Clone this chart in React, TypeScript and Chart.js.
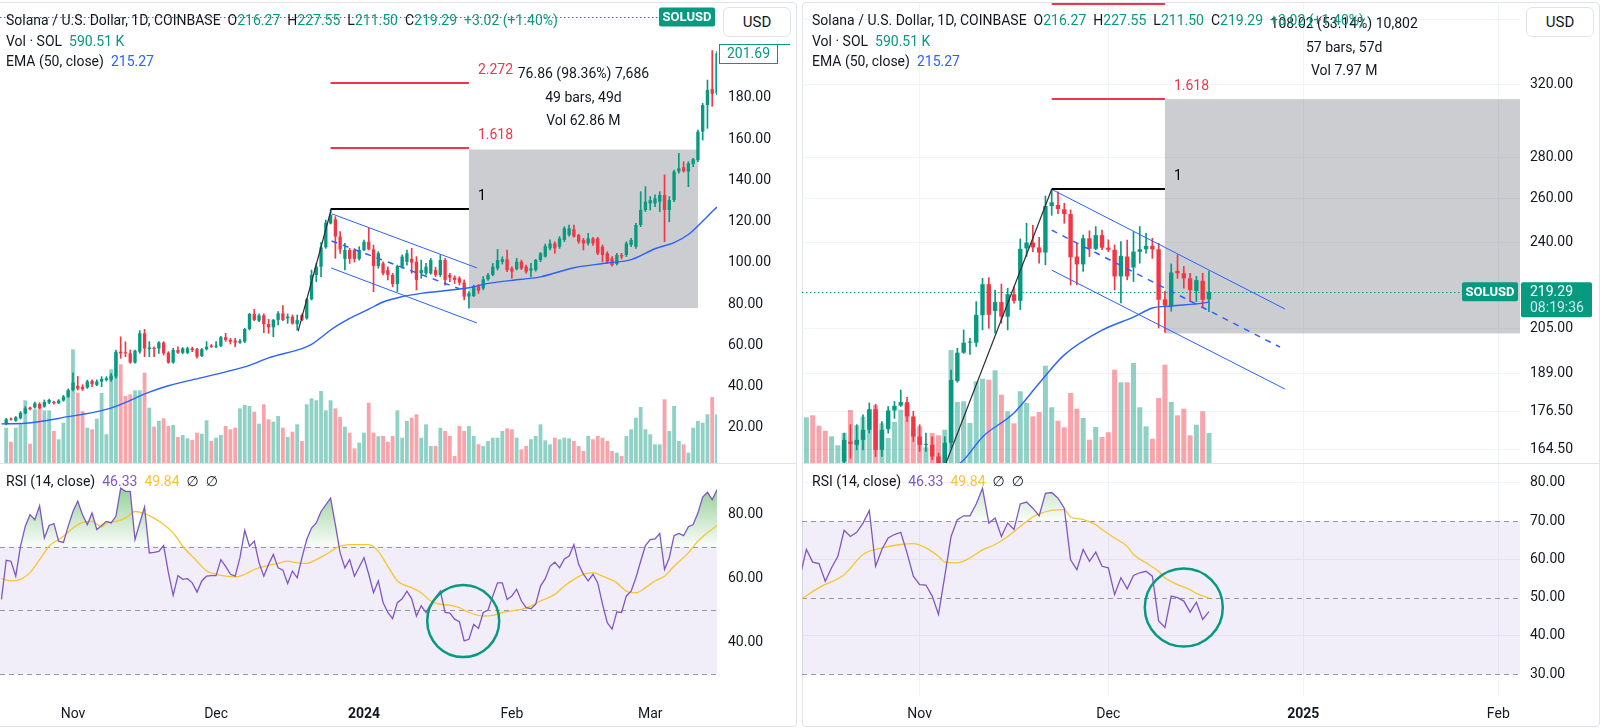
import React, { useEffect, useRef } from 'react';
import { Chart, registerables } from 'chart.js';

Chart.register(...registerables);

const FONT = 'Roboto, "Noto Sans", "DejaVu Sans", sans-serif';
Chart.defaults.font.family = FONT;
Chart.defaults.font.size = 14;
Chart.defaults.color = '#131722';

const TEXT = '#131722';
const GREEN = '#089981';
const RED = '#F23645';
const BLUE = '#2962FF';
const PURPLE = '#7E57C2';
const YELLOW = '#F7C531';
const GRID = '#f0f3fa';
const BORDER = '#e0e3eb';
const VOL_UP = 'rgba(8,153,129,0.45)';
const VOL_DOWN = 'rgba(242,54,69,0.45)';
const BOX_FILL = 'rgba(120,123,134,0.38)';
const RSI_BAND = 'rgba(126,87,194,0.1)';
const DASH = '#9598A1';

// ======================= DATA =======================
// Day index 0 = 1 Nov of each panel's year (left: 2023, right: 2024)

// ---- Left panel (Oct 2023 - Mar 2024) ----
const leftFirstDay = -14;
const leftOpen = [
  21.8, 24.4, 23.6, 24.7, 27.1, 29.9, 30.0, 31.7, 30.4, 32.3,
  32.6, 32.0, 33.3, 35.2, 38.4, 40.4, 40.0, 39.6, 42.8, 40.9,
  42.5, 43.3, 43.3, 44.9, 57.0, 56.5, 56.2, 51.7, 57.0, 65.9,
  58.3, 58.6, 58.6, 61.4, 56.5, 51.7, 57.8, 56.5, 56.5, 58.6,
  58.2, 54.9, 58.2, 59.9, 59.4, 59.8, 64.0, 62.7, 62.4, 61.4,
  61.9, 68.0, 75.3, 72.0, 74.6, 70.4, 68.8, 72.4, 75.6, 73.2,
  74.0, 70.3, 74.8, 73.2, 82.4, 94.2, 98.2, 107.6, 119.2, 121.2,
  112.8, 102.0, 106.3, 106.3, 102.0, 106.3, 110.3, 106.6, 98.5, 99.8,
  96.6, 94.2, 89.8, 98.2, 100.6, 102.0, 100.6, 95.0, 95.0, 95.0,
  96.6, 94.2, 101.4, 94.2, 93.0, 92.6, 90.5, 83.7, 84.0, 88.8,
  87.7, 92.1, 94.2, 97.4, 100.6, 101.8, 97.4, 97.0, 100.6, 98.2,
  96.3, 96.6, 101.4, 103.1, 107.1, 109.5, 107.9, 111.2, 113.6, 116.3,
  113.6, 111.2, 109.5, 111.9, 111.9, 107.9, 104.7, 102.3, 99.5, 103.9,
  103.9, 108.7, 107.9, 118.4, 125.7, 128.9, 128.9, 129.7, 133.0, 125.7,
  130.5, 144.3, 146.4, 144.3, 148.0, 149.9, 163.7, 176.6, 184.4, 182.3,
];
const leftHigh = [
  24.7, 24.9, 25.6, 28.0, 30.4, 30.2, 32.6, 32.3, 33.6, 34.0,
  33.0, 33.8, 35.8, 39.0, 46.8, 45.0, 41.0, 43.2, 43.3, 43.3,
  44.9, 44.9, 46.5, 57.8, 64.2, 61.8, 57.8, 57.8, 67.2, 67.8,
  61.9, 59.4, 61.9, 61.9, 57.0, 58.6, 59.4, 59.0, 59.2, 59.2,
  58.6, 58.6, 61.9, 60.5, 61.9, 64.5, 65.9, 63.5, 63.5, 63.0,
  68.3, 75.6, 77.5, 75.3, 75.3, 72.7, 72.7, 76.4, 79.3, 75.3,
  74.8, 74.8, 75.3, 82.9, 96.6, 99.8, 109.9, 120.8, 126.0, 122.5,
  115.2, 109.5, 107.1, 107.0, 107.9, 111.1, 116.8, 108.7, 105.5, 100.6,
  98.2, 95.0, 99.0, 104.0, 106.3, 107.1, 103.1, 101.4, 99.8, 102.3,
  98.0, 103.9, 102.3, 95.0, 93.8, 93.4, 91.8, 86.1, 89.3, 89.6,
  93.4, 95.0, 99.8, 106.6, 103.0, 106.3, 98.2, 102.3, 101.4, 99.0,
  99.8, 101.8, 105.1, 109.2, 111.2, 110.3, 112.8, 117.6, 118.4, 118.4,
  114.0, 112.0, 114.4, 112.5, 112.5, 108.7, 105.5, 103.1, 104.7, 104.7,
  110.3, 112.0, 119.2, 134.6, 137.0, 132.2, 133.0, 134.6, 142.7, 132.2,
  145.1, 153.2, 149.1, 149.1, 150.8, 164.5, 177.4, 188.7, 203.0, 202.5,
];
const leftLow = [
  21.5, 23.8, 23.2, 24.4, 26.8, 28.8, 29.6, 29.2, 30.0, 31.8,
  31.6, 31.8, 33.0, 34.8, 38.0, 38.4, 38.2, 39.2, 40.0, 40.5,
  40.0, 42.8, 42.6, 44.1, 53.8, 54.6, 51.4, 51.4, 56.2, 54.6,
  54.6, 54.6, 56.2, 55.4, 51.4, 51.4, 56.2, 56.0, 56.0, 57.0,
  53.8, 54.6, 57.8, 59.0, 59.0, 59.4, 61.9, 60.7, 59.4, 61.0,
  61.4, 67.5, 72.0, 71.6, 66.2, 65.9, 64.3, 70.0, 72.0, 70.7,
  70.3, 67.5, 72.0, 72.7, 82.1, 91.0, 93.4, 107.1, 118.9, 102.3,
  104.7, 96.6, 99.8, 100.5, 101.4, 106.0, 106.3, 86.1, 97.5, 94.2,
  91.8, 88.5, 86.1, 97.5, 99.0, 95.0, 86.9, 92.6, 94.2, 94.5,
  93.4, 93.4, 89.3, 91.0, 90.1, 89.3, 82.1, 78.14, 83.7, 85.3,
  87.0, 91.5, 93.8, 96.6, 99.5, 95.8, 92.6, 96.6, 96.8, 95.0,
  93.4, 96.0, 100.6, 102.8, 106.3, 104.7, 107.1, 110.3, 113.0, 112.5,
  109.5, 106.3, 108.7, 108.5, 104.0, 100.6, 99.8, 98.5, 99.0, 102.0,
  103.1, 107.9, 107.1, 117.6, 125.0, 125.7, 127.3, 124.9, 110.3, 120.0,
  129.7, 143.5, 144.0, 137.0, 146.7, 149.1, 159.6, 165.3, 176.0, 181.5,
];
const leftClose = [
  24.2, 24.0, 25.2, 27.4, 29.5, 29.1, 32.0, 29.5, 32.6, 33.6,
  32.0, 33.3, 35.2, 38.4, 42.0, 39.1, 38.8, 42.6, 41.3, 42.5,
  43.8, 44.1, 45.4, 57.0, 56.2, 56.2, 51.7, 57.5, 65.9, 58.6,
  59.0, 58.3, 61.4, 56.2, 51.7, 57.8, 56.5, 58.6, 58.6, 57.8,
  54.6, 58.2, 59.4, 59.4, 59.9, 64.0, 62.7, 61.9, 61.4, 62.2,
  68.0, 75.3, 72.4, 74.6, 70.4, 68.8, 72.4, 75.6, 72.4, 74.0,
  70.7, 72.4, 72.4, 82.4, 94.2, 98.2, 107.6, 119.6, 123.3, 112.8,
  106.6, 106.3, 102.0, 102.0, 106.3, 110.3, 106.6, 98.5, 104.7, 95.0,
  94.2, 89.8, 98.5, 103.1, 104.7, 100.2, 91.8, 96.6, 98.2, 101.4,
  94.2, 101.4, 91.8, 93.0, 91.8, 90.5, 83.7, 85.3, 88.8, 86.6,
  92.1, 94.2, 98.2, 101.4, 101.8, 96.6, 95.8, 100.6, 97.4, 95.8,
  97.4, 101.4, 104.7, 108.2, 109.5, 107.1, 111.9, 116.8, 116.8, 112.8,
  110.3, 109.5, 111.9, 109.5, 104.7, 103.9, 100.6, 99.0, 103.9, 103.1,
  109.5, 111.2, 118.4, 125.7, 129.7, 130.5, 131.3, 133.0, 125.7, 130.5,
  144.3, 145.9, 144.6, 148.3, 150.3, 163.7, 176.6, 183.9, 182.0, 201.69,
];
// volume (relative units), starting at leftFirstDay
const leftVolume = [
  35.3, 21.3, 35.3, 38.7, 62.7, 19.3, 53.7, 53.7, 52.7, 52.7,
  32, 23.7, 40.3, 72, 113.7, 70.3, 52, 35.3, 33.7, 44.3,
  70, 28.7, 93.7, 110.3, 98.7, 67, 68.7, 72.7, 72.7, 90.3,
  55.3, 36.3, 42, 44.7, 37, 38, 26, 28, 24.7, 23,
  30.3, 29.3, 42.7, 22, 25.3, 28, 37, 33.7, 35.3, 54.7,
  58, 57, 51.3, 39.3, 58.7, 43.7, 41.3, 47, 35.3, 26,
  31.3, 38.7, 22, 58.7, 64.7, 62.7, 72, 52.7, 62.7, 54.7,
  46, 36.3, 30.3, 14.7, 20.3, 30.3, 60.3, 30.3, 26.7, 27,
  21.3, 27, 52.7,
  25.3, 42, 45.3, 48.7, 25.3, 38.7, 17, 17, 35.3, 32,
  27, 7, 37, 32, 37, 27, 18.7, 17, 22, 25.3,
  25.3, 32, 34.7, 33.7, 25.3, 13.7, 17, 23.7, 27, 38.7,
  22.7, 18.7, 25.3, 23.7, 25.3, 24.7, 22, 17, 12, 27,
  23.7, 27, 25.3, 22, 12, 10.3, 7, 27, 33.7, 45.3,
  56, 33.7, 28.7, 18.7, 18.7, 63.7, 32, 57, 22, 18.7,
  10.3, 35.3, 42, 40.3, 48.7, 66, 48.7,
];
const leftEma: [number, number][] = [
  [-15, 22.0], [-10, 22.3], [-1, 25.5], [6, 28.4], [9, 30.5], [13, 34.4], [16, 37.4],
  [20, 40.5], [27, 44.4], [33, 47.8], [37, 50.4], [41, 54.0], [48, 58.5], [50, 60.5],
  [52, 63.9], [54, 67.5], [58, 73.1], [62, 77.6], [65, 81.1], [69, 83.7], [73, 85.3],
  [83, 88.0], [87, 90.1], [94, 92.1], [98, 93.3], [105, 97.7], [112, 100.0], [117, 101.6],
  [122, 106.9], [126, 109.9], [129, 113.8], [133, 122.6], [135, 127.2],
];
const leftRsiFirstDay = -15;
const leftRsi = [
  53.4, 65.7, 65.4, 60.7, 70.1, 76.4, 80.0, 78.4, 82.8, 72.7,
  76.6, 77.2, 71.7, 71.3, 76.4, 81.0, 84.2, 80.0, 76.9, 80.5,
  75.3, 76.6, 77.9, 77.4, 79.5, 88.3, 87.3, 87.3, 72.2, 77.4,
  82.4, 68.0, 68.2, 68.5, 70.3, 61.8, 54.7, 60.9, 59.7, 59.9,
  58.6, 55.7, 59.2, 60.7, 60.9, 60.9, 65.9, 63.8, 61.3, 60.7,
  66.5, 75.1, 70.1, 71.7, 64.9, 60.7, 64.4, 67.5, 63.3, 62.6,
  58.4, 62.3, 60.2, 66.5, 72.2, 75.8, 77.4, 81.0, 83.1, 85.2,
  76.9, 68.0, 63.3, 65.9, 60.7, 63.6, 66.5, 61.3, 55.5, 59.2,
  52.4, 49.3, 47.4, 52.4, 53.6, 56.0, 53.6, 48.2, 51.4, 49.3,
  51.9, 53.9, 56.0, 49.3, 49.1, 47.2, 46.4, 40.4, 40.9, 45.6,
  44.3, 49.3, 50.1, 54.5, 58.6, 58.6, 53.4, 54.5, 56.6, 52.9,
  50.8, 50.5, 51.9, 57.6, 59.9, 63.8, 65.1, 63.3, 66.1, 67.0,
  70.6, 64.4, 61.3, 59.2, 61.3, 58.6, 51.9, 46.1, 44.1, 49.5,
  49.3, 54.5, 56.0, 60.2, 65.4, 70.3, 72.2, 72.4, 74.1, 62.8,
  66.5, 73.4, 74.1, 73.4, 76.2, 76.9, 80.5, 85.5, 87.0, 84.7,
  87.8,
];
const leftRsiMa: [number, number][] = [
  [-15, 59.9], [-13, 59.2], [-11, 59.7], [-9, 61.8], [-7, 65.9], [-5, 70.1], [-2, 73.2],
  [0, 75.8], [2, 77.6], [4, 77.9], [6, 76.2], [7, 77.4], [9, 77.9], [11, 78.9], [13, 81.0],
  [15, 80.3], [17, 78.9], [19, 76.9], [21, 74.3], [23, 70.1], [26, 65.4], [28, 62.3],
  [30, 61.3], [32, 60.7], [34, 60.5], [36, 61.3], [38, 62.8], [41, 64.1], [43, 64.7],
  [45, 65.4], [47, 64.9], [49, 64.7], [51, 65.9], [53, 67.5], [56, 70.1], [58, 70.6],
  [60, 70.6], [62, 70.6], [64, 68.5], [66, 63.8], [68, 59.2], [71, 57.1], [73, 55.5],
  [75, 52.9], [77, 51.9], [79, 51.6], [81, 50.8], [83, 49.3], [86, 48.2], [88, 48.4],
  [90, 49.3], [92, 49.8], [94, 50.3], [96, 51.4], [98, 52.9], [101, 55.0], [103, 57.6],
  [105, 59.7], [107, 61.3], [109, 61.8], [111, 60.7], [114, 58.6], [116, 56.0], [118, 55.5],
  [120, 57.1], [122, 59.2], [124, 60.7], [126, 63.8], [129, 68.0], [131, 71.7], [133, 74.3],
  [135, 76.6],
];
const leftMonthTicks = [0, 30, 61, 92, 121];
const leftMonthLabels = ['Nov', 'Dec', '2024', 'Feb', 'Mar'];
const leftPriceTicks = [20, 40, 60, 80, 100, 120, 140, 160, 180, 200, 220];
const leftRsiTicks = [40, 60, 80];
// drawings
const leftBoxDays = [83, 131];
const leftBoxPrices = [78.14, 155.0];
const leftMeasureText = ['76.86 (98.36%) 7,686', '49 bars, 49d', 'Vol 62.86 M'];
const leftFibDays = [54, 83];
const leftFibPrices = [126.0, 155.8, 187.3];
const fibLabels = ['1', '1.618', '2.272'];
const leftChannelUpper: [number, number][] = [[54.3, 123.8], [84.7, 97.6]];
const leftChannelLower: [number, number][] = [[54.1, 97.6], [84.7, 70.9]];
const leftChannelMid: [number, number][] = [[54.2, 110.7], [81, 87.5]];
const leftTrend: [number, number][] = [[47.2, 67.0], [54.1, 125.7]];
const leftCircle = [81.8, 46.6];
const leftAxisMarker = 201.69;

// ---- Right panel (Oct 2024 - Feb 2025) ----
const rightFirstDay = -12;
const rightOpen = [
  161.0, 167.0, 166.0, 167.5, 170.6, 177.1, 164.5, 170.8, 176.7, 178.3,
  179.4, 174.8, 168.5, 166.0, 166.0, 162.5, 160.0, 166.6, 186.4, 196.3,
  199.9, 199.9, 210.1, 222.3, 211.8, 215.2, 209.6, 218.3, 215.7, 237.3,
  239.8, 237.7, 235.5, 256.3, 256.8, 254.8, 252.6, 233.8, 230.5, 241.7,
  237.1, 243.1, 237.6, 236.7, 225.5, 233.8, 229.2, 235.8, 236.9, 238.4,
  236.9, 216.3, 213.5, 227.8, 226.8, 224.7, 219.6, 223.7, 216.27,
];
const rightHigh = [
  169.6, 172.2, 172.2, 175.3, 179.1, 178.7, 173.2, 178.0, 179.6, 183.4,
  181.0, 176.4, 172.2, 169.6, 168.5, 163.5, 168.5, 190.2, 197.9, 204.6,
  201.5, 215.4, 224.7, 225.0, 220.0, 222.4, 220.7, 221.3, 241.4, 248.4,
  247.5, 242.1, 261.0, 264.2, 263.0, 257.6, 254.5, 239.5, 243.1, 245.0,
  246.9, 245.3, 241.0, 238.8, 240.2, 240.9, 244.5, 246.9, 243.9, 241.7,
  239.5, 219.5, 230.7, 234.5, 229.6, 226.8, 225.5, 226.8, 227.55,
];
const rightLow = [
  159.5, 162.0, 164.5, 164.5, 169.6, 162.5, 162.5, 169.6, 174.2, 178.0,
  173.2, 167.0, 164.0, 164.0, 161.5, 158.0, 157.0, 165.0, 186.0, 196.0,
  195.7, 198.5, 204.6, 205.2, 203.4, 207.1, 204.6, 214.8, 212.3, 233.8,
  235.9, 231.0, 230.3, 252.0, 252.8, 248.4, 222.0, 222.0, 227.6, 233.8,
  236.7, 236.7, 235.9, 220.0, 214.9, 224.1, 223.4, 231.0, 235.2, 233.0,
  205.3, 203.7, 211.7, 224.7, 220.7, 215.4, 215.4, 213.5, 211.50,
];
const rightClose = [
  167.5, 166.3, 167.5, 170.6, 177.1, 164.5, 170.6, 176.7, 178.2, 179.4,
  174.8, 168.5, 166.0, 166.3, 162.5, 160.5, 166.6, 186.8, 196.3, 199.9,
  200.3, 210.3, 222.3, 210.3, 215.2, 209.6, 218.3, 215.7, 237.1, 239.8,
  237.7, 235.5, 256.3, 258.0, 254.9, 252.6, 233.5, 230.5, 241.7, 237.1,
  243.1, 237.6, 236.7, 225.5, 234.1, 225.5, 235.9, 236.9, 238.4, 236.9,
  216.1, 213.9, 227.1, 226.8, 224.7, 220.0, 224.0, 216.1, 219.29,
];
const rightVolFirstDay = -18;
const rightVolume = [
  45.7, 47.7, 37.3, 32.3, 26.7, 17.7, 30, 53, 37.7, 46.3,
  53.3, 57.7, 39.7, 25, 41, 53.3, 59, 34.3, 36.7, 15.7,
  30, 27.7, 33.3, 113, 61, 61.7, 40, 81.7, 84.3, 83.3,
  92.7, 68.3, 51.7, 39.7, 71.7, 60, 46.7, 51, 97.3, 55.7,
  42.3, 35.7, 70, 54.3, 45, 23.3, 36, 26, 30.7, 93.3,
  80.7, 80.7, 100, 55.7, 36.7, 24.3, 65, 98.3, 61, 47.7,
  54.3, 27.7, 38.3, 51.7, 30,
];
const rightEarlyVolUp = [true, false, false, false, true, true];
const rightEma: [number, number][] = [
  [4, 157.5], [7, 161.5], [10, 168.4], [15, 175.9], [19, 185.7], [23, 195.5], [29, 204.5],
  [34, 209.4], [37, 212.9], [40, 213.7], [45, 214.8], [46, 215.27],
];
const rightRsiFirstDay = -19;
const rightRsi = [
  55.6, 62.6, 59.3, 58.9, 54.3, 57.8, 60.8, 67.6, 66.0, 67.1,
  69.5, 72.8, 58.2, 62.6, 65.6, 66.5, 67.1, 61.7, 55.6, 53.4,
  53.3, 50.4, 45.6, 55.6, 66.0, 70.4, 71.4, 71.4, 74.5, 78.6,
  69.5, 70.8, 66.0, 69.5, 67.8, 74.5, 75.0, 73.4, 71.4, 77.3,
  77.5, 76.0, 73.4, 59.9, 57.3, 62.6, 59.5, 61.9, 58.2, 57.8,
  50.8, 55.2, 52.3, 55.8, 56.5, 56.9, 55.6, 43.9, 42.2, 50.4,
  50.0, 49.1, 46.2, 48.8, 44.3, 46.33,
];
const rightRsiMa: [number, number][] = [
  [-19, 49.4], [-16, 52.6], [-12, 56.0], [-9, 61.3], [-6, 63.0], [-3, 63.9], [-1, 64.1],
  [1, 63.0], [3, 60.8], [4, 59.3], [6, 59.1], [8, 60.4], [10, 62.5], [12, 63.9], [14, 66.0],
  [16, 68.6], [18, 71.1], [19, 71.9], [21, 72.8], [23, 73.0], [24, 71.1], [26, 70.4],
  [28, 69.1], [29, 67.8], [31, 65.6], [33, 63.4], [34, 61.3], [36, 59.1], [38, 56.9],
  [39, 55.2], [41, 53.4], [43, 52.1], [44, 51.1], [46, 49.84],
];
const rightMonthTicks = [0, 30, 61, 92];
const rightMonthLabels = ['Nov', 'Dec', '2025', 'Feb'];
const rightPriceTicks = [164.5, 176.5, 189, 205, 240, 260, 280, 320, 360];
const rightRsiTicks = [30, 40, 50, 60, 70, 80];
const rightBoxDays = [39, 96];
const rightBoxPrices = [203.28, 311.3];
const rightMeasureText = ['108.02 (53.14%) 10,802', '57 bars, 57d', 'Vol 7.97 M'];
const rightFibDays = [21, 39];
const rightFibPrices = [264.2, 311.3, 370.4];
const rightChannelUpper: [number, number][] = [[21, 264.2], [58.1, 212.5]];
const rightChannelLower: [number, number][] = [[21, 228.1], [58.1, 183.7]];
const rightChannelMid: [number, number][] = [[21, 245.3], [57.3, 198.3]];
const rightTrend: [number, number][] = [[4.2, 160.6], [21, 264.2]];
const rightCircle = [42, 47.4];
const rightCountdown = '08:19:36';

// ---- shared legend values ----
const symbolName = 'SOLUSD';
const lastPrice = 219.29;
const titleText = 'Solana / U.S. Dollar, 1D, COINBASE';
const ohlcLabels = ['O', 'H', 'L', 'C'];
const ohlcValues = ['216.27', '227.55', '211.50', '219.29'];
const changeText = '+3.02 (+1.40%)';
const volTitle = 'Vol · SOL';
const volValue = '590.51 K';
const emaTitle = 'EMA (50, close)';
const emaValue = '215.27';
const rsiTitle = 'RSI (14, close)';
const rsiValues = ['46.33', '49.84'];

// ======================= CHART BUILDERS =======================
type Pt = [number, number];

function roundRect(ctx: any, x: number, y: number, w: number, h: number, r: number) {
  ctx.beginPath();
  ctx.moveTo(x + r, y);
  ctx.lineTo(x + w - r, y);
  ctx.quadraticCurveTo(x + w, y, x + w, y + r);
  ctx.lineTo(x + w, y + h - r);
  ctx.quadraticCurveTo(x + w, y + h, x + w - r, y + h);
  ctx.lineTo(x + r, y + h);
  ctx.quadraticCurveTo(x, y + h, x, y + h - r);
  ctx.lineTo(x, y + r);
  ctx.quadraticCurveTo(x, y, x + r, y);
  ctx.closePath();
}

function pricePlugin(c: any) {
  return {
    id: 'priceAnn',
    beforeDatasetsDraw(chart: any) {
      const { ctx, chartArea: a } = chart;
      const x = chart.scales.x;
      const y = chart.scales.y;
      ctx.save();
      ctx.beginPath();
      ctx.rect(a.left, a.top, a.right - a.left, a.bottom - a.top);
      ctx.clip();
      const bx1 = x.getPixelForValue(c.boxDays[0]);
      const bx2 = x.getPixelForValue(c.boxDays[1]);
      const by1 = y.getPixelForValue(c.boxPrices[1]);
      const by2 = y.getPixelForValue(c.boxPrices[0]);
      ctx.fillStyle = BOX_FILL;
      ctx.fillRect(bx1, by1, bx2 - bx1, by2 - by1);
      const ly = Math.round(y.getPixelForValue(lastPrice)) + 0.5;
      ctx.strokeStyle = GREEN;
      ctx.lineWidth = 1;
      ctx.setLineDash([1.5, 2.5]);
      ctx.beginPath();
      ctx.moveTo(a.left, ly);
      ctx.lineTo(a.right - 58, ly);
      ctx.stroke();
      ctx.restore();
    },
    afterDatasetsDraw(chart: any) {
      const { ctx, chartArea: a } = chart;
      const x = chart.scales.x;
      const y = chart.scales.y;
      const P = (pt: Pt) => [x.getPixelForValue(pt[0]), y.getPixelForValue(pt[1])];
      const seg = (pts: Pt[], color: string, width: number, dash: number[]) => {
        const p0 = P(pts[0]);
        const p1 = P(pts[1]);
        ctx.strokeStyle = color;
        ctx.lineWidth = width;
        ctx.setLineDash(dash);
        ctx.beginPath();
        ctx.moveTo(p0[0], p0[1]);
        ctx.lineTo(p1[0], p1[1]);
        ctx.stroke();
      };
      ctx.save();
      ctx.beginPath();
      ctx.rect(a.left, a.top, a.right - a.left, a.bottom - a.top);
      ctx.clip();
      seg(c.chUpper, BLUE, 1, []);
      seg(c.chLower, BLUE, 1, []);
      seg(c.chMid, BLUE, 1.5, [6, 6]);
      seg(c.trend, '#2a2e39', 1.2, []);
      ctx.setLineDash([]);
      const fx1 = x.getPixelForValue(c.fibDays[0]);
      const fx2 = x.getPixelForValue(c.fibDays[1]);
      ctx.font = `14px ${FONT}`;
      ctx.textBaseline = 'middle';
      c.fibPrices.forEach((p: number, i: number) => {
        const fy = Math.round(y.getPixelForValue(p));
        const col = fibLabels[i] === '1' ? '#000000' : RED;
        ctx.strokeStyle = col;
        ctx.lineWidth = 2;
        ctx.beginPath();
        ctx.moveTo(fx1, fy);
        ctx.lineTo(fx2, fy);
        ctx.stroke();
        ctx.fillStyle = col;
        ctx.textAlign = 'left';
        ctx.fillText(fibLabels[i], fx2 + 9, fy - 13);
      });
      const bxc = (x.getPixelForValue(c.boxDays[0]) + x.getPixelForValue(c.boxDays[1])) / 2;
      const by1 = y.getPixelForValue(c.boxPrices[1]);
      ctx.fillStyle = TEXT;
      ctx.textAlign = 'center';
      const offs = [75, 51, 28];
      c.measure.forEach((t: string, i: number) => ctx.fillText(t, bxc, by1 - offs[i]));
      ctx.restore();

      // symbol badge at the current price
      const cy = y.getPixelForValue(lastPrice);
      const bw = 56;
      const bh = 19;
      const right = a.right - 2;
      ctx.save();
      ctx.fillStyle = GREEN;
      roundRect(ctx, right - bw, cy - bh / 2, bw, bh, 2);
      ctx.fill();
      ctx.fillStyle = '#ffffff';
      ctx.font = `bold 13px ${FONT}`;
      ctx.textAlign = 'center';
      ctx.textBaseline = 'middle';
      ctx.fillText(symbolName, right - bw / 2, cy + 0.5);
      if (c.countdown) {
        const px = a.right + 1;
        const top = cy - bh / 2;
        ctx.fillStyle = GREEN;
        roundRect(ctx, px, top, 71, 35, 2);
        ctx.fill();
        ctx.font = `14px ${FONT}`;
        ctx.textAlign = 'left';
        ctx.fillStyle = '#ffffff';
        ctx.fillText(lastPrice.toFixed(2), px + 9, top + 10);
        ctx.fillStyle = 'rgba(255,255,255,0.8)';
        ctx.fillText(c.countdown, px + 9, top + 26);
      }
      if (c.marker) {
        const my = y.getPixelForValue(c.marker);
        const px = a.right + 2;
        const top = Math.round(my - 9.5) + 0.5;
        ctx.fillStyle = '#ffffff';
        ctx.fillRect(px, top, 58, 19);
        ctx.strokeStyle = GREEN;
        ctx.lineWidth = 1;
        ctx.strokeRect(px + 0.5, top, 58, 19);
        ctx.beginPath();
        ctx.moveTo(px, top);
        ctx.lineTo(a.right + 73, top);
        ctx.stroke();
        ctx.fillStyle = GREEN;
        ctx.font = `14px ${FONT}`;
        ctx.textAlign = 'left';
        ctx.textBaseline = 'middle';
        ctx.fillText(c.marker.toFixed(2), px + 8, top + 10);
      }
      ctx.restore();
    },
  };
}

function buildPrice(canvas: HTMLCanvasElement, c: any) {
  const n = c.open.length;
  const up = (i: number) => c.close[i] >= c.open[i];
  const volUp = (j: number) => {
    const i = c.volFirstDay + j - c.firstDay;
    if (i >= 0 && i < n) return up(i);
    return c.volEarlyUp[j] !== false;
  };
  const days = c.open.map((_: number, i: number) => c.firstDay + i);
  return new Chart(canvas, {
    type: 'bar',
    data: {
      datasets: [
        {
          type: 'bar',
          data: c.volume.map((v: number, j: number) => ({ x: c.volFirstDay + j, y: v })),
          yAxisID: 'vol',
          backgroundColor: (ctx: any) => (volUp(ctx.dataIndex) ? VOL_UP : VOL_DOWN),
          grouped: false,
          barPercentage: 0.8,
          categoryPercentage: 1,
          order: 5,
        },
        {
          type: 'bar',
          data: days.map((d: number, i: number) => ({ x: d, y: [c.low[i], c.high[i]] })),
          yAxisID: 'y',
          backgroundColor: (ctx: any) => (up(ctx.dataIndex) ? GREEN : RED),
          grouped: false,
          barThickness: 1,
          order: 4,
        },
        {
          type: 'bar',
          data: days.map((d: number, i: number) => ({ x: d, y: [c.open[i], c.close[i]] })),
          yAxisID: 'y',
          backgroundColor: (ctx: any) => (up(ctx.dataIndex) ? GREEN : RED),
          grouped: false,
          barPercentage: 0.7,
          categoryPercentage: 1,
          minBarLength: 1,
          order: 3,
        },
        {
          type: 'line',
          data: c.ema.map((p: Pt) => ({ x: p[0], y: p[1] })),
          yAxisID: 'y',
          borderColor: BLUE,
          borderWidth: 1.4,
          pointRadius: 0,
          cubicInterpolationMode: 'monotone',
          order: 1,
        },
      ],
    },
    options: {
      responsive: false,
      animation: false,
      events: [],
      layout: { padding: 0 },
      plugins: { legend: { display: false }, tooltip: { enabled: false } },
      scales: {
        x: {
          type: 'linear',
          min: c.xMin,
          max: c.xMax,
          offset: false,
          display: c.grid,
          grid: { display: c.grid, color: GRID, drawTicks: false, offset: false },
          border: { display: false },
          ticks: { display: false },
          afterBuildTicks: (s: any) => {
            s.ticks = c.monthTicks.map((v: number) => ({ value: v }));
          },
          afterFit: (s: any) => {
            s.height = 0;
            s.paddingLeft = 0;
            s.paddingRight = 0;
          },
        },
        y: {
          type: c.log ? 'logarithmic' : 'linear',
          position: 'right',
          min: c.yMin,
          max: c.yMax,
          grid: { display: c.grid, color: GRID, drawTicks: false },
          border: { display: false },
          ticks: {
            autoSkip: false,
            padding: c.axisPad,
            color: TEXT,
            font: { size: 14, family: FONT },
            callback: (v: any) => Number(v).toFixed(2),
          },
          afterBuildTicks: (s: any) => {
            s.ticks = c.ticks.map((v: number) => ({ value: v }));
          },
          afterFit: (s: any) => {
            s.width = 80;
            s.paddingTop = 0;
            s.paddingBottom = 0;
          },
        },
        vol: { type: 'linear', display: false, min: 0, max: c.volMax },
      },
    },
    plugins: [pricePlugin(c)],
  } as any);
}

function rsiPlugin(r: any) {
  return {
    id: 'rsiAnn',
    beforeDatasetsDraw(chart: any) {
      const { ctx, chartArea: a } = chart;
      const x = chart.scales.x;
      const y = chart.scales.y;
      ctx.save();
      ctx.beginPath();
      ctx.rect(a.left, a.top, a.right - a.left, a.bottom - a.top);
      ctx.clip();
      const y70 = y.getPixelForValue(70);
      const y30 = y.getPixelForValue(30);
      ctx.fillStyle = RSI_BAND;
      ctx.fillRect(a.left, y70, a.right - a.left, y30 - y70);
      ctx.save();
      ctx.beginPath();
      ctx.rect(a.left, a.top, a.right - a.left, y70 - a.top);
      ctx.clip();
      const g = ctx.createLinearGradient(0, y.getPixelForValue(100), 0, y70);
      g.addColorStop(0, 'rgba(76,175,80,0.95)');
      g.addColorStop(1, 'rgba(76,175,80,0.03)');
      ctx.fillStyle = g;
      ctx.beginPath();
      ctx.moveTo(x.getPixelForValue(r.firstDay), y70);
      r.values.forEach((v: number, i: number) => ctx.lineTo(x.getPixelForValue(r.firstDay + i), y.getPixelForValue(v)));
      ctx.lineTo(x.getPixelForValue(r.firstDay + r.values.length - 1), y70);
      ctx.closePath();
      ctx.fill();
      ctx.restore();
      ctx.strokeStyle = DASH;
      ctx.lineWidth = 1;
      ctx.setLineDash([5, 4]);
      [70, 50, 30].forEach((v) => {
        const yy = Math.round(y.getPixelForValue(v)) + 0.5;
        ctx.beginPath();
        ctx.moveTo(a.left, yy);
        ctx.lineTo(a.right, yy);
        ctx.stroke();
      });
      ctx.restore();
    },
    afterDatasetsDraw(chart: any) {
      const { ctx } = chart;
      const x = chart.scales.x;
      const y = chart.scales.y;
      ctx.save();
      ctx.strokeStyle = GREEN;
      ctx.lineWidth = 2.5;
      ctx.beginPath();
      ctx.arc(x.getPixelForValue(r.circle[0]), y.getPixelForValue(r.circle[1]), r.circleR, 0, Math.PI * 2);
      ctx.stroke();
      ctx.restore();
    },
  };
}

function buildRsi(canvas: HTMLCanvasElement, r: any) {
  const labelFor = (v: number) => {
    const k = r.monthTicks.indexOf(v);
    return k >= 0 ? r.monthLabels[k] : '';
  };
  return new Chart(canvas, {
    type: 'line',
    data: {
      datasets: [
        {
          data: r.values.map((v: number, i: number) => ({ x: r.firstDay + i, y: v })),
          borderColor: PURPLE,
          borderWidth: 1.3,
          pointRadius: 0,
          order: 1,
        },
        {
          data: r.ma.map((p: Pt) => ({ x: p[0], y: p[1] })),
          borderColor: YELLOW,
          borderWidth: 1.3,
          pointRadius: 0,
          cubicInterpolationMode: 'monotone',
          order: 2,
        },
      ],
    },
    options: {
      responsive: false,
      animation: false,
      events: [],
      layout: { padding: 0 },
      plugins: { legend: { display: false }, tooltip: { enabled: false } },
      scales: {
        x: {
          type: 'linear',
          min: r.xMin,
          max: r.xMax,
          grid: { display: r.grid, color: GRID, drawTicks: false },
          border: { display: false },
          ticks: {
            autoSkip: false,
            maxRotation: 0,
            padding: 10,
            color: TEXT,
            font: (ctx: any) => ({
              size: 14,
              family: FONT,
              weight: /^\d{4}$/.test(labelFor(ctx.tick ? ctx.tick.value : -999)) ? 'bold' : 'normal',
            }),
            callback: (v: any) => labelFor(Number(v)),
          },
          afterBuildTicks: (s: any) => {
            s.ticks = r.monthTicks.map((v: number) => ({ value: v }));
          },
          afterFit: (s: any) => {
            s.height = 30;
            s.paddingLeft = 0;
            s.paddingRight = 0;
          },
        },
        y: {
          position: 'right',
          min: r.yMin,
          max: r.yMax,
          grid: {
            display: r.grid,
            drawTicks: false,
            color: (ctx: any) => (ctx.tick && [30, 50, 70].includes(ctx.tick.value) ? 'rgba(0,0,0,0)' : GRID),
          },
          border: { display: false },
          ticks: {
            autoSkip: false,
            padding: r.axisPad,
            color: TEXT,
            font: { size: 14, family: FONT },
            callback: (v: any) => Number(v).toFixed(2),
          },
          afterBuildTicks: (s: any) => {
            s.ticks = r.ticks.map((v: number) => ({ value: v }));
          },
          afterFit: (s: any) => {
            s.width = 80;
            s.paddingTop = 0;
            s.paddingBottom = 0;
          },
        },
      },
    },
    plugins: [rsiPlugin(r)],
  } as any);
}

// ======================= PANEL CONFIGS =======================
const leftPriceCfg = {
  firstDay: leftFirstDay, open: leftOpen, high: leftHigh, low: leftLow, close: leftClose,
  volFirstDay: leftFirstDay, volume: leftVolume, volEarlyUp: [], ema: leftEma,
  xMin: -15.3, xMax: 135.0, log: false, yMin: 3.03, yMax: 226.06, ticks: leftPriceTicks,
  grid: false, monthTicks: leftMonthTicks, volMax: 460, axisPad: 11,
  boxDays: leftBoxDays, boxPrices: leftBoxPrices, measure: leftMeasureText,
  fibDays: leftFibDays, fibPrices: leftFibPrices,
  chUpper: leftChannelUpper, chLower: leftChannelLower, chMid: leftChannelMid, trend: leftTrend,
  marker: leftAxisMarker, countdown: null,
};
const rightPriceCfg = {
  firstDay: rightFirstDay, open: rightOpen, high: rightHigh, low: rightLow, close: rightClose,
  volFirstDay: rightVolFirstDay, volume: rightVolume, volEarlyUp: rightEarlyVolUp, ema: rightEma,
  xMin: -18.7, xMax: 95.45, log: true, yMin: 160.6, yMax: 370.8, ticks: rightPriceTicks,
  grid: true, monthTicks: rightMonthTicks, volMax: 460, axisPad: 10,
  boxDays: rightBoxDays, boxPrices: rightBoxPrices, measure: rightMeasureText,
  fibDays: rightFibDays, fibPrices: rightFibPrices,
  chUpper: rightChannelUpper, chLower: rightChannelLower, chMid: rightChannelMid, trend: rightTrend,
  marker: null, countdown: rightCountdown,
};
const leftRsiCfg = {
  firstDay: leftRsiFirstDay, values: leftRsi, ma: leftRsiMa, xMin: -15.3, xMax: 135.0,
  yMin: 23.1, yMax: 95.9, ticks: leftRsiTicks, grid: false, axisPad: 11,
  monthTicks: leftMonthTicks, monthLabels: leftMonthLabels, circle: leftCircle, circleR: 36,
};
const rightRsiCfg = {
  firstDay: rightRsiFirstDay, values: rightRsi, ma: rightRsiMa, xMin: -18.7, xMax: 95.45,
  yMin: 24.27, yMax: 84.95, ticks: rightRsiTicks, grid: true, axisPad: 10,
  monthTicks: rightMonthTicks, monthLabels: rightMonthLabels, circle: rightCircle, circleR: 39,
};

// ======================= COMPONENTS =======================
function ChartCanvas(props: { left: number; top: number; width: number; height: number; build: (c: HTMLCanvasElement) => any }) {
  const ref = useRef<HTMLCanvasElement | null>(null);
  useEffect(() => {
    const chart = props.build(ref.current as HTMLCanvasElement);
    return () => chart.destroy();
  }, []);
  return (
    <canvas
      ref={ref}
      width={props.width}
      height={props.height}
      style={{ position: 'absolute', left: props.left, top: props.top, width: props.width, height: props.height }}
    />
  );
}

function Legend({ left }: { left: number }) {
  return (
    <div style={{ position: 'absolute', left, top: 10, fontSize: 14, lineHeight: '20.5px', color: TEXT, whiteSpace: 'nowrap', fontFamily: FONT }}>
      <div>
        {titleText}
        {ohlcLabels.map((l, i) => (
          <span key={l} style={{ marginLeft: 7 }}>
            {l}
            <span style={{ color: GREEN }}>{ohlcValues[i]}</span>
          </span>
        ))}
        <span style={{ marginLeft: 7, color: GREEN }}>{changeText}</span>
      </div>
      <div>
        {volTitle}
        <span style={{ marginLeft: 7, color: GREEN }}>{volValue}</span>
      </div>
      <div>
        {emaTitle}
        <span style={{ marginLeft: 7, color: BLUE }}>{emaValue}</span>
      </div>
    </div>
  );
}

function RsiLegend({ left }: { left: number }) {
  return (
    <div style={{ position: 'absolute', left, top: 471, fontSize: 14, lineHeight: '20px', color: TEXT, whiteSpace: 'nowrap', fontFamily: FONT }}>
      {rsiTitle}
      <span style={{ marginLeft: 7, color: PURPLE }}>{rsiValues[0]}</span>
      <span style={{ marginLeft: 7, color: YELLOW }}>{rsiValues[1]}</span>
      <span style={{ marginLeft: 7 }}>∅</span>
      <span style={{ marginLeft: 7 }}>∅</span>
    </div>
  );
}

function UsdBox({ left }: { left: number }) {
  return (
    <div
      style={{
        position: 'absolute', left, top: 7, width: 68, height: 30, boxSizing: 'border-box',
        border: `1px solid ${BORDER}`, borderRadius: 6, background: '#ffffff',
        display: 'flex', alignItems: 'center', justifyContent: 'center',
        fontSize: 15, color: TEXT, fontFamily: FONT,
      }}
    >
      USD
    </div>
  );
}

export default function App() {
  return (
    <div style={{ position: 'fixed', left: 0, top: 0, width: 1600, height: 728, background: '#ffffff', overflow: 'hidden', fontFamily: FONT }}>
      <div style={{ position: 'absolute', left: -4, top: 2, width: 801, height: 725, border: `1px solid ${BORDER}`, borderRadius: 4, boxSizing: 'border-box' }} />
      <div style={{ position: 'absolute', left: 802, top: 2, width: 798, height: 725, border: `1px solid ${BORDER}`, borderRadius: 4, boxSizing: 'border-box' }} />
      <div style={{ position: 'absolute', left: 0, top: 463, width: 796, height: 1, background: BORDER }} />
      <div style={{ position: 'absolute', left: 803, top: 463, width: 796, height: 1, background: BORDER }} />
      <ChartCanvas left={0} top={3} width={797} height={460} build={(cv) => buildPrice(cv, leftPriceCfg)} />
      <ChartCanvas left={0} top={464} width={797} height={262} build={(cv) => buildRsi(cv, leftRsiCfg)} />
      <ChartCanvas left={802} top={3} width={798} height={460} build={(cv) => buildPrice(cv, rightPriceCfg)} />
      <ChartCanvas left={802} top={464} width={798} height={262} build={(cv) => buildRsi(cv, rightRsiCfg)} />
      <Legend left={6} />
      <Legend left={812} />
      <RsiLegend left={6} />
      <RsiLegend left={812} />
      <UsdBox left={723} />
      <UsdBox left={1526} />
    </div>
  );
}
